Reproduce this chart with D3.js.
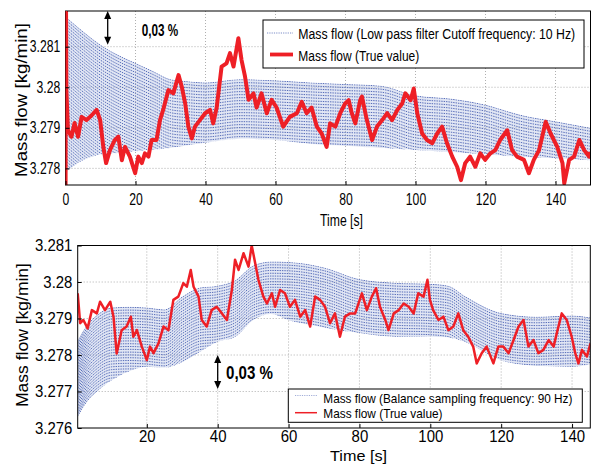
<!DOCTYPE html>
<html>
<head>
<meta charset="utf-8">
<script src="https://cdn.jsdelivr.net/npm/d3@7/dist/d3.min.js"></script>
<style>
  body { margin: 0; background: #fff; }
  svg { display: block; }
  text { font-family: "Liberation Sans", Arial, sans-serif; fill: #000; }
</style>
</head>
<body>
<svg id="chart" width="592" height="464"></svg>
<script>
// ---------- Upper panel: low pass filtered signal vs. true value ----------
const topTicksX = [0, 20, 40, 60, 80, 100, 120, 140];
const topTicksY = [3.278, 3.279, 3.28, 3.281];
const topTickLabelsY = ["3.278", "3.279", "3.28", "3.281"];

// envelope of the filtered mass-flow signal [time s, kg/min]
const topBandT     = [0, 5, 10, 15, 20, 25, 30, 35, 40, 50, 60, 70, 80, 90, 100, 110, 120, 130, 140, 150];
const topBandUpper = [3.28175, 3.28138, 3.28105, 3.2808, 3.2806, 3.2804, 3.2802, 3.28015, 3.28012, 3.2802,
                      3.28017, 3.28012, 3.28008, 3.28004, 3.2798, 3.27972, 3.27957, 3.27932, 3.27916, 3.279];
const topBandLower = [3.2779, 3.2782, 3.27834, 3.27838, 3.27842, 3.27846, 3.2785, 3.27857, 3.27863, 3.27873,
                      3.2787, 3.2786, 3.27855, 3.2785, 3.27845, 3.2784, 3.27835, 3.27828, 3.27825, 3.2782];

// true mass flow [time s, kg/min]
const topTrue = [
  [0, 3.2760], [0.1, 3.2830], [0.25, 3.27993], [0.7, 3.27894], [1.7, 3.27878], [2.6, 3.27912], [3.6, 3.27878],
  [4.6, 3.27927], [6.0, 3.27919], [7.5, 3.27931], [8.9, 3.27944], [9.9, 3.27919], [10.8, 3.27853], [11.6, 3.27813],
  [12.7, 3.27845], [14.1, 3.2787], [15.1, 3.27878], [16.1, 3.2782], [17.0, 3.27853], [18.4, 3.27829], [19.9, 3.27788],
  [20.8, 3.27829], [21.8, 3.27813], [22.7, 3.27837], [23.7, 3.27829], [24.6, 3.2787], [26.0, 3.2787], [27.0, 3.27919],
  [27.9, 3.27944], [29.4, 3.27993], [30.8, 3.27985], [32.3, 3.2803], [33.2, 3.28002], [34.2, 3.2796], [35.1, 3.27903],
  [36.1, 3.27874], [37.0, 3.27903], [38.4, 3.27919], [39.9, 3.27936], [41.3, 3.27944], [42.2, 3.27911], [43.2, 3.2795],
  [44.6, 3.28051], [46.0, 3.28059], [47.0, 3.28084], [48.0, 3.28051], [49.4, 3.28121], [50.3, 3.28067], [51.3, 3.28026],
  [52.3, 3.27969], [53.7, 3.27985], [54.6, 3.2795], [56.0, 3.27985], [57.5, 3.27936], [58.9, 3.27969], [60.3, 3.2795],
  [62.2, 3.27903], [64.1, 3.27927], [66.1, 3.27936], [67.5, 3.27964], [68.9, 3.27936], [70.3, 3.2795], [71.8, 3.27903],
  [73.2, 3.27886], [74.6, 3.27853], [75.6, 3.27911], [77.1, 3.27903], [78.5, 3.27936], [79.9, 3.2796], [80.9, 3.27968],
  [81.8, 3.27936], [82.8, 3.27911], [84.2, 3.27968], [84.7, 3.27977], [86.1, 3.27919], [87.6, 3.2787], [89.0, 3.27903],
  [90.5, 3.27919], [91.9, 3.27936], [93.3, 3.27919], [94.8, 3.27944], [96.2, 3.2796], [97.1, 3.27985], [98.6, 3.27968],
  [99.5, 3.27997], [100.5, 3.27936], [101.9, 3.27886], [103.3, 3.2787], [104.8, 3.27862], [106.2, 3.27886], [107.6, 3.27903],
  [109.0, 3.27862], [110.5, 3.27829], [111.9, 3.27804], [113.0, 3.27771], [114.2, 3.27813], [115.6, 3.27829], [117.1, 3.27804],
  [118.5, 3.27837], [119.9, 3.27821], [121.4, 3.27837], [122.8, 3.27845], [124.2, 3.2787], [126.2, 3.27894], [127.6, 3.27845],
  [129.0, 3.27829], [131.0, 3.27821], [132.4, 3.27788], [133.8, 3.27821], [135.3, 3.27845], [137.2, 3.27915], [138.6, 3.27886],
  [140.5, 3.27853], [142.0, 3.27813], [142.5, 3.27763], [143.9, 3.27821], [145.3, 3.27829], [146.8, 3.2787], [148.2, 3.27845],
  [149.6, 3.27829], [150, 3.2784]
];

// ---------- Lower panel: balance sampling signal vs. true value ----------
const botTicksX = [20, 40, 60, 80, 100, 120, 140];
const botTicksY = [3.276, 3.277, 3.278, 3.279, 3.28, 3.281];
const botTickLabelsY = ["3.276", "3.277", "3.278", "3.279", "3.28", "3.281"];

const botBandT     = [0.5, 3, 6, 10, 15, 20, 25, 30, 35, 40, 45, 50, 55, 60, 70, 80, 90, 100, 105, 110, 120, 130, 140, 145.2];
const botBandUpper = [3.2784, 3.2788, 3.2791, 3.2793, 3.27932, 3.2793, 3.27925, 3.2796, 3.27985, 3.2799, 3.28005, 3.28045,
                      3.28056, 3.28055, 3.2804, 3.28008, 3.27998, 3.27995, 3.2799, 3.2796, 3.27915, 3.27905, 3.27908, 3.27903];
const botBandLower = [3.2763, 3.2767, 3.277, 3.2773, 3.27755, 3.27768, 3.27765, 3.2778, 3.27808, 3.27836, 3.2785, 3.27895,
                      3.27912, 3.27895, 3.27875, 3.2786, 3.2785, 3.2785, 3.27848, 3.27835, 3.27785, 3.2777, 3.27768, 3.27775];

const botTrue = [
  [0.5, 3.27969], [1.2, 3.27887], [2.1, 3.27896], [3.3, 3.27873], [4.5, 3.27923], [5.9, 3.27914], [6.8, 3.27946],
  [8.2, 3.27923], [9.7, 3.27946], [10.6, 3.27905], [11.5, 3.27804], [12.9, 3.27868], [14.3, 3.27878], [15.5, 3.27905],
  [16.2, 3.2785], [17.2, 3.27868], [18.6, 3.27823], [20.0, 3.27786], [20.9, 3.27823], [21.9, 3.27805], [23.3, 3.27832],
  [24.7, 3.27878], [26.1, 3.27868], [27.5, 3.27951], [28.9, 3.2796], [30.3, 3.27997], [31.3, 3.27987], [32.4, 3.28033],
  [33.2, 3.27987], [34.6, 3.2796], [35.5, 3.27896], [36.9, 3.27878], [38.3, 3.27923], [39.7, 3.27932], [41.2, 3.27914],
  [42.6, 3.27896], [44.0, 3.27978], [44.9, 3.28061], [45.9, 3.28033], [47.3, 3.28079], [48.7, 3.28042], [49.6, 3.281],
  [50.6, 3.28051], [51.5, 3.28006], [52.9, 3.2796], [53.9, 3.27941], [55.3, 3.27969], [56.2, 3.27932], [57.6, 3.27978],
  [59.0, 3.27969], [60.4, 3.27932], [61.8, 3.27951], [63.3, 3.27905], [64.7, 3.27923], [66.1, 3.27878], [67.5, 3.2796],
  [68.9, 3.27951], [70.3, 3.27932], [71.7, 3.27887], [73.1, 3.27914], [74.5, 3.2785], [75.9, 3.27905], [77.4, 3.27914],
  [78.8, 3.27914], [80.7, 3.27969], [82.1, 3.27923], [83.5, 3.2796], [84.7, 3.27983], [85.8, 3.27932], [87.3, 3.27896],
  [88.2, 3.27868], [89.7, 3.27914], [91.1, 3.27923], [92.5, 3.27941], [93.9, 3.27932], [95.3, 3.27914], [96.6, 3.27969],
  [98.1, 3.2796], [99.2, 3.28006], [99.9, 3.27951], [100.8, 3.27923], [102.3, 3.27896], [103.7, 3.27905], [105.1, 3.27868],
  [106.5, 3.27878], [107.9, 3.27914], [109.3, 3.27868], [110.7, 3.2785], [112.1, 3.27823], [113.1, 3.27777], [114.5, 3.27805],
  [115.9, 3.27823], [117.8, 3.27777], [119.2, 3.27823], [120.6, 3.27823], [122.1, 3.27805], [123.5, 3.27841], [124.9, 3.27878],
  [126.3, 3.27896], [127.7, 3.27823], [129.1, 3.27841], [130.5, 3.27805], [131.9, 3.27814], [133.4, 3.27841], [134.8, 3.27823],
  [135.7, 3.2786], [137.1, 3.27914], [138.5, 3.27896], [139.9, 3.2785], [140.9, 3.27805], [141.8, 3.27777], [142.8, 3.27814],
  [144.2, 3.27796], [145.2, 3.27832]
];

const RED = "#ee1f26";
const BLUE = "#2f4aa8";

const svg = d3.select("#chart");
const defs = svg.append("defs");

// text anchored at (x, y); when a target length is given the glyphs are squeezed to it
function label(g, x, y, str, o) {
  const t = g.append("text")
    .attr("text-anchor", o.anchor || "start")
    .style("font-size", o.size + "px")
    .style("font-weight", o.weight || "normal")
    .text(str);
  let sx = o.sx || 1;
  if (o.len) sx = o.len / t.node().getComputedTextLength();
  t.attr("transform", `translate(${x},${y})` + (o.rotate ? ` rotate(${o.rotate})` : "") + ` scale(${sx},1)`);
  return t;
}

function doubleArrow(g, x, y1, y2, head) {
  g.append("line").attr("x1", x).attr("x2", x).attr("y1", y1 + head).attr("y2", y2 - head)
    .attr("stroke", "#000").attr("stroke-width", 1.3);
  g.append("path").attr("d", `M${x},${y1} L${x - 3.5},${y1 + head + 1} L${x + 3.5},${y1 + head + 1} Z`).attr("fill", "#000");
  g.append("path").attr("d", `M${x},${y2} L${x - 3.5},${y2 - head - 1} L${x + 3.5},${y2 - head - 1} Z`).attr("fill", "#000");
}

function panel(cfg) {
  const g = svg.append("g");
  const x = d3.scaleLinear().domain(cfg.xDomain).range([cfg.left, cfg.right]);
  const y = d3.scaleLinear().domain(cfg.yDomain).range([cfg.bottom, cfg.top]);
  const w = cfg.right - cfg.left, h = cfg.bottom - cfg.top;

  // dotted grid
  const grid = g.append("g").attr("stroke", "#9a9a9a").attr("stroke-width", 0.8).attr("stroke-dasharray", "1,2");
  grid.selectAll("line.gx").data(cfg.ticksX.filter(d => x(d) > cfg.left + 1)).join("line")
    .attr("x1", d => x(d)).attr("x2", d => x(d)).attr("y1", cfg.top).attr("y2", cfg.bottom);
  grid.selectAll("line.gy").data(cfg.ticksY.filter(d => y(d) > cfg.top + 1 && y(d) < cfg.bottom - 1)).join("line")
    .attr("x1", cfg.left).attr("x2", cfg.right).attr("y1", d => y(d)).attr("y2", d => y(d));

  // plot clip
  const clipId = cfg.id + "-clip";
  defs.append("clipPath").attr("id", clipId).append("rect")
    .attr("x", cfg.left).attr("y", cfg.top).attr("width", w).attr("height", h);

  // band of the measured signal: its area clips a dense dotted hatch that follows the upper edge
  const band = cfg.bandT.map((t, i) => ({ t, hi: cfg.bandUpper[i], lo: cfg.bandLower[i] }));
  const area = d3.area().curve(d3.curveMonotoneX)
    .x(d => x(d.t)).y0(d => y(d.lo)).y1(d => y(d.hi));
  const bandId = cfg.id + "-band";
  defs.append("clipPath").attr("id", bandId).append("path").attr("d", area(band));
  const upperLine = d3.line().curve(d3.curveMonotoneX).x(d => x(d.t)).y(d => y(d.hi));
  const maxH = d3.max(band, d => y(d.lo) - y(d.hi));
  const hatch = g.append("g").attr("clip-path", `url(#${clipId})`)
    .append("g").attr("clip-path", `url(#${bandId})`);
  hatch.append("path").attr("d", area(band)).attr("fill", "#a9b8e0").attr("fill-opacity", 0.35);
  hatch.selectAll("path.h").data(d3.range(0, Math.ceil(maxH / cfg.spacing) + 1)).join("path")
    .attr("class", "h")
    .attr("d", upperLine(band))
    .attr("transform", k => `translate(0,${k * cfg.spacing + 0.5})`)
    .attr("fill", "none").attr("stroke", BLUE).attr("stroke-width", 1)
    .attr("stroke-opacity", 0.78).attr("stroke-dasharray", "1.4,1");

  // true value
  g.append("g").attr("clip-path", `url(#${clipId})`).append("path")
    .datum(cfg.trueData)
    .attr("d", d3.line().x(d => x(d[0])).y(d => y(d[1])))
    .attr("fill", "none").attr("stroke", RED).attr("stroke-width", cfg.redWidth)
    .attr("stroke-linejoin", "round");

  // frame
  g.append("rect").attr("x", cfg.left).attr("y", cfg.top).attr("width", w).attr("height", h)
    .attr("fill", "none").attr("stroke", "#000").attr("stroke-width", 1);
  if (cfg.leftEdgeRed) {
    g.append("g").attr("clip-path", `url(#${clipId})`).append("path")
      .datum(cfg.trueData.slice(0, 3))
      .attr("d", d3.line().x(d => x(d[0])).y(d => y(d[1])))
      .attr("fill", "none").attr("stroke", RED).attr("stroke-width", 2);
  }

  // axes (inward ticks)
  const ax = g.append("g").attr("transform", `translate(0,${cfg.bottom})`)
    .call(d3.axisBottom(x).tickValues(cfg.ticksX).tickSize(-4).tickPadding(cfg.xPad).tickFormat(d3.format("d")));
  const ay = g.append("g").attr("transform", `translate(${cfg.left},0)`)
    .call(d3.axisLeft(y).tickValues(cfg.ticksY).tickSize(-4).tickPadding(cfg.yPad)
      .tickFormat((d, i) => cfg.tickLabelsY[i]));
  [ax, ay].forEach(a => {
    a.select(".domain").remove();
    a.selectAll(".tick line").attr("stroke", "#000");
    a.selectAll(".tick text").style("font-size", cfg.tickSize + "px")
      .style("font-family", '"Liberation Sans", Arial, sans-serif')
      .attr("fill", "#000").attr("transform", `scale(${cfg.sx},1)`);
  });
  return { g, x, y };
}

// ---- upper panel ----
const P1 = panel({
  id: "p1", left: 65.5, right: 590.5, top: 11, bottom: 185,
  xDomain: [0, 150], yDomain: [3.27759, 3.28188],
  ticksX: topTicksX, ticksY: topTicksY, tickLabelsY: topTickLabelsY,
  bandT: topBandT, bandUpper: topBandUpper, bandLower: topBandLower,
  trueData: topTrue, redWidth: 4, spacing: 3, leftEdgeRed: true,
  tickSize: 16, sx: 0.76, xPad: 9, yPad: 7
});
label(P1.g, 27, 100, "Mass flow [kg/min]", { size: 16, anchor: "middle", rotate: -90, len: 154 });
label(P1.g, 341.5, 226, "Time [s]", { size: 16, anchor: "middle", len: 43 });
doubleArrow(P1.g, 107.7, 11, 44.7, 7);
label(P1.g, 141.7, 36, "0,03 %", { size: 16, weight: "bold", len: 36.5 });

// legend (upper)
const L1 = svg.append("g");
L1.append("rect").attr("x", 263).attr("y", 20).attr("width", 321).attr("height", 48)
  .attr("fill", "#fff").attr("stroke", "#000").attr("stroke-width", 1);
L1.append("line").attr("x1", 267).attr("x2", 293).attr("y1", 33).attr("y2", 33)
  .attr("stroke", BLUE).attr("stroke-width", 0.9).attr("stroke-dasharray", "1.2,1.1").attr("stroke-opacity", 0.7);
L1.append("line").attr("x1", 270).attr("x2", 293).attr("y1", 54.5).attr("y2", 54.5)
  .attr("stroke", RED).attr("stroke-width", 3.8);
label(L1, 298.3, 39, "Mass flow (Low pass filter Cutoff frequency: 10 Hz)", { size: 15, len: 277 });
label(L1, 298.3, 61, "Mass flow (True value)", { size: 15, len: 121 });

// ---- lower panel ----
const P2 = panel({
  id: "p2", left: 77.7, right: 590.3, top: 245.5, bottom: 428,
  xDomain: [0.5, 145.15], yDomain: [3.276, 3.281],
  ticksX: botTicksX, ticksY: botTicksY, tickLabelsY: botTickLabelsY,
  bandT: botBandT, bandUpper: botBandUpper, bandLower: botBandLower,
  trueData: botTrue, redWidth: 2.5, spacing: 2.8, leftEdgeRed: false,
  tickSize: 17, sx: 0.88, xPad: 2, yPad: 6
});
label(P2.g, 28, 335, "Mass flow [kg/min]", { size: 17, anchor: "middle", rotate: -90, len: 144 });
label(P2.g, 358.5, 460.5, "Time [s]", { size: 15.5, anchor: "middle", len: 57 });
doubleArrow(P2.g, 217.7, 355, 389, 7);
label(P2.g, 226, 379, "0,03 %", { size: 18, weight: "bold", len: 47 });

// legend (lower)
const L2 = svg.append("g");
L2.append("rect").attr("x", 288.3).attr("y", 389).attr("width", 294).attr("height", 33.3)
  .attr("fill", "#fff").attr("stroke", "#000").attr("stroke-width", 1);
L2.append("line").attr("x1", 295).attr("x2", 317).attr("y1", 395.5).attr("y2", 395.5)
  .attr("stroke", BLUE).attr("stroke-width", 0.9).attr("stroke-dasharray", "1.2,1.1").attr("stroke-opacity", 0.5);
L2.append("line").attr("x1", 295).attr("x2", 317).attr("y1", 412.7).attr("y2", 412.7)
  .attr("stroke", RED).attr("stroke-width", 1.5);
label(L2, 323.3, 402.5, "Mass flow (Balance sampling frequency: 90 Hz)", { size: 13, len: 249.4 });
label(L2, 323.3, 418, "Mass flow (True value)", { size: 13, len: 119.4 });
</script>
</body>
</html>
